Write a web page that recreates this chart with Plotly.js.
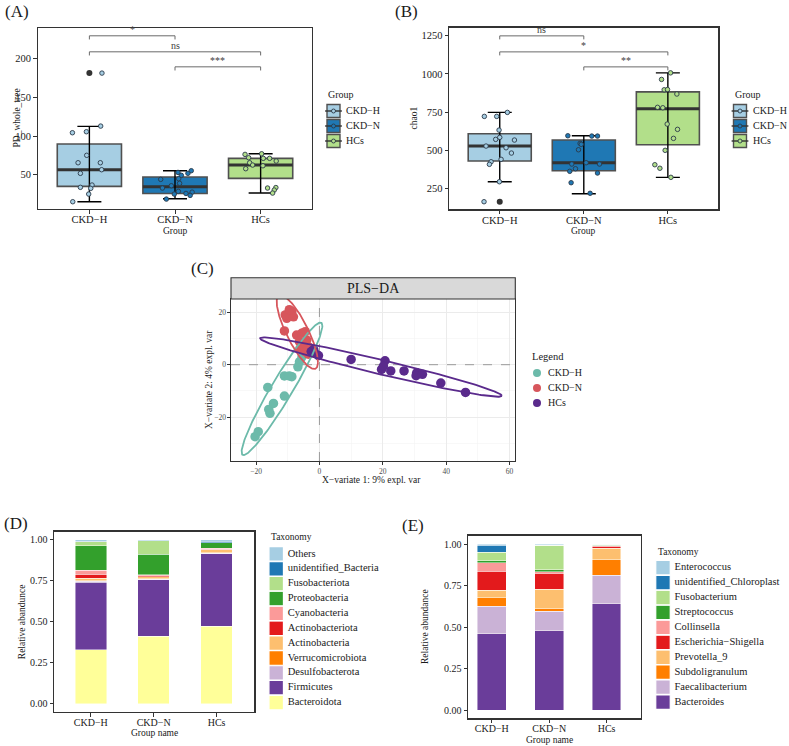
<!DOCTYPE html>
<html><head><meta charset="utf-8">
<script src="https://cdn.plot.ly/plotly-3.0.1.min.js"></script>
<style>html,body{margin:0;padding:0;background:#fff}#chart{width:789px;height:746px}</style>
</head><body><div id="chart"></div>
<script>
// ---------- DATA ----------
const groups = ['CKD\u2212H', 'CKD\u2212N', 'HCs'];
const groupColors = ['#A6CEE3', '#1F78B4', '#B2DF8A'];

// Panel A: PD_whole_tree
const pdQ1 = [35.0, 25.8, 45.3];
const pdMedian = [56.5, 34.5, 62.5];
const pdQ3 = [89.7, 47.0, 71.2];
const pdLower = [15.1, 19.0, 26.3];
const pdUpper = [112.5, 55.2, 77.1];
const pdOutlierGroup = [0];
const pdOutlierValue = [181.4];
const pdCkdH = [104.3, 105.6, 112.9, 75.1, 65.5, 65.5, 51.8, 56.5, 36.7, 33.7, 32.4, 25.0, 15.1, 181.4];
const pdCkdHJitter = [-0.198, -0.035, 0.132, -0.031, -0.132, 0.128, -0.105, 0.143, 0.031, -0.105, 0.016, -0.008, -0.194, 0.147];
const pdCkdN = [55.2, 51.8, 53.0, 49.2, 44.0, 44.8, 38.9, 32.8, 35.8, 28.5, 25.0, 25.8, 27.5, 23.3, 18.5];
const pdCkdNJitter = [0.19, 0.151, 0.035, 0.074, -0.167, 0.043, 0.054, -0.147, -0.043, 0.039, -0.008, 0.128, 0.2, 0.177, -0.101];
const pdHCs = [76.3, 77.1, 72.0, 71.2, 71.2, 67.7, 65.5, 62.5, 61.6, 57.8, 32.8, 33.4, 30.2, 26.3];
const pdHCsJitter = [-0.182, 0.012, -0.14, 0.031, 0.105, 0.182, -0.128, -0.093, 0.027, -0.174, 0.081, 0.178, 0.159, 0.14];
const pdBracketFrom = [0, 0, 1];
const pdBracketTo = [1, 2, 2];
const pdBracketY = [229.6, 208.9, 189.5];
const pdBracketLabel = ['*', 'ns', '***'];

// Panel B: chao1
const chaoQ1 = [430.8, 367.5, 537.2];
const chaoMedian = [528.7, 419.7, 772.2];
const chaoQ3 = [609.0, 567.9, 883.0];
const chaoLower = [295.7, 217.4, 324.4];
const chaoUpper = [748.7, 596.0, 1007.0];
const chaoOutlierGroup = [0];
const chaoOutlierValue = [165.0];
const chaoCkdH = [722.5, 722.5, 748.7, 633, 572.4, 585.5, 567.9, 528.7, 517.6, 483, 441.9, 426.2, 409.3, 295.7, 165];
const chaoCkdHJitter = [-0.183, -0.036, 0.091, -0.008, -0.048, 0, 0.175, -0.163, 0.075, 0.139, 0.016, -0.103, -0.123, -0.004, -0.187];
const chaoCkdN = [596, 594, 594, 546.3, 540, 504.5, 411.2, 419.7, 411.2, 380.5, 363.6, 352.5, 289.2, 220];
const chaoCkdNJitter = [-0.19, 0.095, 0.163, -0.044, -0.03, -0.063, -0.143, 0.028, 0.187, -0.099, -0.167, 0.163, -0.151, 0.075];
const chaoHCs = [1007, 964, 896.2, 898, 868.7, 781.7, 779, 672.3, 637.7, 579, 500.7, 406.7, 383.7, 324.4];
const chaoHCsJitter = [0.032, -0.075, -0.044, -0.004, 0.107, -0.123, -0.06, -0.008, 0.115, 0.067, -0.032, -0.155, -0.095, 0.036];
const chaoBracketFrom = [0, 0, 1];
const chaoBracketTo = [1, 2, 2];
const chaoBracketY = [1248.6, 1144, 1046];
const chaoBracketLabel = ['ns', '*', '**'];

// Panel C: PLS-DA scores
const plsColors = ['#6CBAAA', '#D7565C', '#5A2A8C'];
const plsCkdHX = [-20.3, -19.3, -16.3, -16.0, -15.6, -14.5, -11.05, -11.05, -9.5, -8.7, -6.8, -6.3, -5.5, -4.5];
const plsCkdHY = [-27.5, -25.6, -8.7, -17.1, -18.6, -14.8, -12.0, -4.3, -4.3, -4.6, -0.8, 1.1, 3.0, 5.0];
const plsCkdNX = [-9.8, -10.3, -10.8, -8.7, -8.2, -9.5, -11.05, -7.2, -5.6, -4.5, -6.3, -5.1, -4.0, -6.1, -3.5, -3.5, -4.5];
const plsCkdNY = [19.6, 17.7, 19.0, 20.3, 18.3, 21.0, 12.9, 11.3, 12.0, 12.6, 8.8, 7.5, 9.4, 6.2, 6.9, 4.0, 5.0];
const plsHCsX = [-2.6, -1.8, -1.4, -0.3, 10.0, 20.7, 19.6, 20.2, 22.5, 26.7, 30.7, 30.5, 32.5, 38.3, 46.1];
const plsHCsY = [5.0, 5.8, 4.3, 3.5, 2.0, 1.5, -1.8, -0.5, -2.4, -2.4, -3.1, -4.2, -3.7, -7.0, -10.6];

// Panel D: phylum relative abundance (bottom -> top)
const phylumNames = ['Bacteroidota', 'Firmicutes', 'Desulfobacterota', 'Verrucomicrobiota', 'Actinobacteria', 'Actinobacteriota', 'Cyanobacteria', 'Proteobacteria', 'Fusobacteriota', 'unidentified_Bacteria', 'Others'];
const phylumColors = ['#FFFF99', '#6A3D9A', '#CAB2D6', '#FF7F00', '#FDBF6F', '#E31A1C', '#FB9A99', '#33A02C', '#B2DF8A', '#1F78B4', '#A6CEE3'];
const phylumCkdH = [0.329, 0.412, 0.005, 0.003, 0.017, 0.024, 0.025, 0.149, 0.026, 0.002, 0.008];
const phylumCkdN = [0.412, 0.344, 0.003, 0.002, 0.013, 0.008, 0.004, 0.127, 0.082, 0.001, 0.004];
const phylumHCs = [0.471, 0.443, 0.003, 0.004, 0.020, 0.003, 0.004, 0.034, 0.002, 0.008, 0.008];

// Panel E: genus relative abundance (bottom -> top)
const genusNames = ['Bacteroides', 'Faecalibacterium', 'Subdoligranulum', 'Prevotella_9', 'Escherichia\u2212Shigella', 'Collinsella', 'Streptococcus', 'Fusobacterium', 'unidentified_Chloroplast', 'Enterococcus'];
const genusColors = ['#6A3D9A', '#CAB2D6', '#FF7F00', '#FDBF6F', '#E31A1C', '#FB9A99', '#33A02C', '#B2DF8A', '#1F78B4', '#A6CEE3'];
const genusCkdH = [0.460, 0.164, 0.051, 0.046, 0.116, 0.051, 0.010, 0.052, 0.044, 0.006];
const genusCkdN = [0.478, 0.116, 0.016, 0.117, 0.096, 0.010, 0.012, 0.147, 0.001, 0.007];
const genusHCs = [0.639, 0.172, 0.095, 0.068, 0.012, 0.004, 0.004, 0.005, 0.0005, 0.0005];

// ---------- BUILD ----------
const SERIF = 'Liberation Serif, Times New Roman, serif';
const W = 789, H = 746;
const px = v => v / W;
const py = v => 1 - v / H;
const traces = [];
const annotations = [];
const shapes = [];
const BOXW = 0.75;
const skip = { showlegend: false, hoverinfo: 'skip' };
const T = o => Object.assign({}, skip, o);
const plsXRange = [-27.9, 61.8];
const plsYRange = [-36.8, 25.1];

function boxPanel(xa, ya, q1, med, q3, lo, hi, outG, outV, ptsList, jitList, brFrom, brTo, brY, brLab, drop) {
  groups.forEach((g, i) => {
    traces.push(T({
      type: 'box', x: [i], q1: [q1[i]], median: [med[i]], q3: [q3[i]],
      lowerfence: [q1[i]], upperfence: [q3[i]], width: BOXW, whiskerwidth: 0,
      fillcolor: groupColors[i], line: { color: '#505050', width: 1.6 },
      name: g, xaxis: xa, yaxis: ya, boxpoints: false
    }));
  });
  const mx = [], my = [];
  groups.forEach((g, i) => { mx.push(i - BOXW / 2, i + BOXW / 2, null); my.push(med[i], med[i], null); });
  traces.push(T({ type: 'scatter', mode: 'lines', x: mx, y: my, line: { color: '#333333', width: 3 }, xaxis: xa, yaxis: ya }));
  traces.push(T({
    type: 'scatter', mode: 'markers', x: groups.map((g, i) => i), y: med,
    marker: { size: 1, color: 'rgba(0,0,0,0)' },
    error_y: { type: 'data', symmetric: false, array: hi.map((h, i) => h - med[i]), arrayminus: lo.map((l, i) => med[i] - l), color: '#000', thickness: 1.4, width: 12 },
    xaxis: xa, yaxis: ya
  }));
  traces.push(T({ type: 'scatter', mode: 'markers', x: outG, y: outV, marker: { size: 6, color: '#333333' }, xaxis: xa, yaxis: ya }));
  ptsList.forEach((pts, i) => {
    traces.push(T({
      type: 'scatter', mode: 'markers', x: pts.map((v, k) => i + jitList[i][k]), y: pts,
      marker: { size: 4.5, color: groupColors[i], line: { color: '#2b3a4a', width: 0.9 } },
      xaxis: xa, yaxis: ya
    }));
  });
  const bx = [], by = [];
  brY.forEach((y, k) => {
    bx.push(brFrom[k], brFrom[k], brTo[k], brTo[k], null);
    by.push(y - drop, y, y, y - drop, null);
    annotations.push({ xref: xa, yref: ya, x: (brFrom[k] + brTo[k]) / 2, y: y, text: brLab[k], showarrow: false, yanchor: 'bottom', yshift: -1, font: { family: SERIF, size: 10, color: '#404040' } });
  });
  traces.push(T({ type: 'scatter', mode: 'lines', x: bx, y: by, line: { color: '#6a6a6a', width: 1 }, xaxis: xa, yaxis: ya }));
}

boxPanel('x', 'y', pdQ1, pdMedian, pdQ3, pdLower, pdUpper, pdOutlierGroup, pdOutlierValue,
  [pdCkdH, pdCkdN, pdHCs], [pdCkdHJitter, pdCkdNJitter, pdHCsJitter], pdBracketFrom, pdBracketTo, pdBracketY, pdBracketLabel, 4.7);
boxPanel('x2', 'y2', chaoQ1, chaoMedian, chaoQ3, chaoLower, chaoUpper, chaoOutlierGroup, chaoOutlierValue,
  [chaoCkdH, chaoCkdN, chaoHCs], [chaoCkdHJitter, chaoCkdNJitter, chaoHCsJitter], chaoBracketFrom, chaoBracketTo, chaoBracketY, chaoBracketLabel, 23);

// Panel C: dashed zero reference lines, drawn under the points
traces.push(T({ type: 'scatter', mode: 'lines', x: [0, 0, null, plsXRange[0], plsXRange[1]], y: [plsYRange[0], plsYRange[1], null, 0, 0],
  line: { color: '#9a9a9a', width: 1, dash: 'dash' }, xaxis: 'x3', yaxis: 'y3' }));
const plsX = [plsCkdHX, plsCkdNX, plsHCsX];
const plsY = [plsCkdHY, plsCkdNY, plsHCsY];
groups.forEach((g, i) => {
  traces.push(T({ type: 'scatter', mode: 'markers', x: plsX[i], y: plsY[i], name: g,
    marker: { size: 9.5, color: plsColors[i] }, xaxis: 'x3', yaxis: 'y3' }));
});
const ELLIPSE_R = Math.sqrt(5.991464547); // 95% chi-square, 2 df
function ellipse(xs, ys) {
  const n = xs.length;
  const mx = xs.reduce((a, b) => a + b, 0) / n, my = ys.reduce((a, b) => a + b, 0) / n;
  let sxx = 0, syy = 0, sxy = 0;
  for (let k = 0; k < n; k++) { sxx += (xs[k] - mx) ** 2; syy += (ys[k] - my) ** 2; sxy += (xs[k] - mx) * (ys[k] - my); }
  sxx /= n - 1; syy /= n - 1; sxy /= n - 1;
  const a = Math.sqrt(sxx), b = sxy / a, c = Math.sqrt(Math.max(syy - b * b, 0));
  const ex = [], ey = [];
  for (let t = 0; t <= 200; t++) {
    const th = 2 * Math.PI * t / 200, u = Math.cos(th), v = Math.sin(th);
    ex.push(mx + ELLIPSE_R * a * u);
    ey.push(my + ELLIPSE_R * (b * u + c * v));
  }
  return { x: ex, y: ey };
}
groups.forEach((g, i) => {
  const e = ellipse(plsX[i], plsY[i]);
  traces.push(T({ type: 'scatter', mode: 'lines', x: e.x, y: e.y, line: { color: plsColors[i], width: 1.8 }, xaxis: 'x3', yaxis: 'y3' }));
});

// Panels D & E bars
function barPanel(names, colors, vals, xa, ya) {
  names.forEach((nm, k) => {
    traces.push(T({ type: 'bar', x: [0, 1, 2], y: vals.map(v => v[k]), width: 0.5, name: nm,
      marker: { color: colors[k], line: { color: 'rgba(255,255,255,0.75)', width: 0.6 } },
      xaxis: xa, yaxis: ya }));
  });
}
barPanel(phylumNames, phylumColors, [phylumCkdH, phylumCkdN, phylumHCs], 'x4', 'y4');
barPanel(genusNames, genusColors, [genusCkdH, genusCkdN, genusHCs], 'x5', 'y5');

// ---------- LEGENDS (drawn on hidden axes from the category arrays; 1 x-unit = 1 px) ----------
function legendText(names, ys, xText, xa, ya, size) {
  traces.push(T({ type: 'scatter', mode: 'text', x: names.map(() => xText), y: ys, text: names, textposition: 'middle right',
    textfont: { family: SERIF, size: size, color: '#1a1a1a' }, marker: { size: 1 }, xaxis: xa, yaxis: ya, cliponaxis: false }));
}
function keyLegend(names, colors, xa, ya, xText) {
  const ys = names.map((n, i) => i);
  traces.push(T({ type: 'scatter', mode: 'markers', x: names.map(() => 0), y: ys,
    marker: { symbol: 'square', size: 14.5, color: colors, line: { color: '#ffffff', width: 1.2 } },
    xaxis: xa, yaxis: ya, cliponaxis: false }));
  legendText(names, ys, xText, xa, ya, 10.5);
}
keyLegend(phylumNames, phylumColors, 'x6', 'y6', 11.5);
keyLegend(genusNames, genusColors, 'x7', 'y7', 11.5);

function boxLegend(xa, ya, xText) {
  const ys = groups.map((g, i) => -i);
  const zx = groups.map(() => 0);
  traces.push(T({ type: 'scatter', mode: 'markers', x: zx, y: ys, marker: { symbol: 'square', size: 13, color: groupColors, line: { color: '#505050', width: 1.4 } }, xaxis: xa, yaxis: ya, cliponaxis: false }));
  traces.push(T({ type: 'scatter', mode: 'markers', x: zx, y: ys, marker: { symbol: 'line-ew', size: 12, line: { color: '#333333', width: 1.4 } }, xaxis: xa, yaxis: ya, cliponaxis: false }));
  traces.push(T({ type: 'scatter', mode: 'markers', x: zx, y: ys, marker: { size: 4, color: groupColors, line: { color: '#2b3a4a', width: 0.9 } }, xaxis: xa, yaxis: ya, cliponaxis: false }));
  legendText(groups, ys, xText, xa, ya, 10);
}
boxLegend('x8', 'y8', 12.5);
boxLegend('x9', 'y9', 13);
(function () {
  const ys = groups.map((g, i) => -i);
  traces.push(T({ type: 'scatter', mode: 'markers', x: groups.map(() => 0), y: ys, marker: { size: 8, color: plsColors }, xaxis: 'x10', yaxis: 'y10', cliponaxis: false }));
  legendText(groups, ys, 11, 'x10', 'y10', 10);
})();

// ---------- LAYOUT ----------
const tickFont = { family: SERIF, size: 10.5, color: '#1a1a1a' };
function catAxis(domain, anchor, range, size) {
  return { domain: domain, anchor: anchor, range: range, tickmode: 'array', tickvals: [0, 1, 2], ticktext: groups,
    showline: true, mirror: true, linecolor: '#333333', linewidth: 1.3, ticks: 'outside', ticklen: 3.5, tickcolor: '#333333',
    ticklabelstandoff: -3,
    showgrid: false, zeroline: false, tickfont: Object.assign({}, tickFont, { size: size }), fixedrange: true };
}
function valAxis(domain, anchor, range, tickvals, fmt, size) {
  return { domain: domain, anchor: anchor, range: range, tickmode: 'array', tickvals: tickvals, tickformat: fmt,
    showline: true, mirror: true, linecolor: '#333333', linewidth: 1.3, ticks: 'outside', ticklen: 3.5, tickcolor: '#333333',
    showgrid: false, zeroline: false, tickfont: Object.assign({}, tickFont, { size: size }), fixedrange: true };
}
const hidden = (domain, anchor, range) => ({ domain: domain, anchor: anchor, range: range, visible: false, fixedrange: true });

function txt(x, y, text, size, opts) {
  annotations.push(Object.assign({ xref: 'paper', yref: 'paper', x: px(x), y: py(y), text: text, showarrow: false,
    font: { family: SERIF, size: size, color: '#1a1a1a' }, xanchor: 'center', yanchor: 'middle' }, opts || {}));
}
txt(3, 11, '(A)', 17, { xanchor: 'left' });
txt(393, 11, '(B)', 17, { xanchor: 'left' });
txt(189, 268, '(C)', 17, { xanchor: 'left' });
txt(2, 523, '(D)', 17, { xanchor: 'left' });
txt(400, 525, '(E)', 17, { xanchor: 'left' });
txt(17, 118.5, 'PD_whole_tree', 9.5, { textangle: -90 });
txt(175, 231, 'Group', 9.5);
txt(414, 118.5, 'chao1', 9.5, { textangle: -90 });
txt(583.5, 231, 'Group', 9.5);
txt(209, 380, 'X\u2212variate 2: 4% expl. var', 9.5, { textangle: -90 });
txt(371, 480, 'X\u2212variate 1: 9% expl. var', 9.5);
txt(21.5, 621.7, 'Relative abandunce', 9.5, { textangle: -90 });
txt(154, 733, 'Group name', 9.5);
txt(425, 627, 'Relative abundance', 9.5, { textangle: -90 });
txt(549, 739.5, 'Group name', 9.5);
txt(326, 95, 'Group', 10, { xanchor: 'left' });
txt(733, 95, 'Group', 10, { xanchor: 'left' });
txt(530, 356, 'Legend', 10.5, { xanchor: 'left' });
txt(269, 537, 'Taxonomy', 9.5, { xanchor: 'left' });
txt(656, 552, 'Taxonomy', 9.5, { xanchor: 'left' });
shapes.push({ type: 'rect', xref: 'paper', yref: 'paper', x0: px(231), x1: px(515.3), y0: py(299), y1: py(277.7), fillcolor: '#d9d9d9', line: { color: '#333333', width: 1.1 } });
txt(373, 288.5, 'PLS\u2212DA', 14);

const layout = {
  width: W, height: H, margin: { l: 0, r: 0, t: 0, b: 0 }, paper_bgcolor: '#ffffff', plot_bgcolor: 'rgba(0,0,0,0)',
  showlegend: false, hovermode: false, barmode: 'stack', boxmode: 'overlay',
  font: { family: SERIF, color: '#1a1a1a' },
  xaxis: catAxis([px(38), px(312)], 'y', [-0.6, 2.6], 10.5),
  yaxis: valAxis([py(209), py(28)], 'x', [5.7, 239.7], [50, 100, 150, 200], '', 10.5),
  xaxis2: catAxis([px(449.3), px(718.3)], 'y2', [-0.6, 2.6], 10.5),
  yaxis2: valAxis([py(209.3), py(27.7)], 'x2', [115.5, 1302], [250, 500, 750, 1000, 1250], '', 10.5),
  xaxis3: { domain: [px(231), px(515.3)], anchor: 'y3', range: plsXRange, tickmode: 'array', tickvals: [-20, 0, 20, 40, 60],
    showline: true, mirror: true, linecolor: '#333333', linewidth: 1.1, ticks: 'outside', ticklen: 2.5, tickcolor: '#333333',
    showgrid: true, gridcolor: '#ebebeb', gridwidth: 1, zeroline: false, tickfont: { family: SERIF, size: 7.5, color: '#4d4d4d' },
    minor: { tickvals: [-10, 10, 30, 50], showgrid: true, gridcolor: '#f3f3f3', gridwidth: 0.6, ticks: '' }, fixedrange: true },
  yaxis3: { domain: [py(461), py(299)], anchor: 'x3', range: plsYRange, tickmode: 'array', tickvals: [-20, 0, 20],
    showline: true, mirror: true, linecolor: '#333333', linewidth: 1.1, ticks: 'outside', ticklen: 2.5, tickcolor: '#333333',
    showgrid: true, gridcolor: '#ebebeb', gridwidth: 1, zeroline: false, tickfont: { family: SERIF, size: 7.5, color: '#4d4d4d' },
    minor: { tickvals: [-30, -10, 10], showgrid: true, gridcolor: '#f3f3f3', gridwidth: 0.6, ticks: '' }, fixedrange: true },
  xaxis4: catAxis([px(54.3), px(254.3)], 'y4', [-0.58, 2.6], 10),
  yaxis4: valAxis([py(711.7), py(531.7)], 'x4', [-0.05, 1.05], [0, 0.25, 0.5, 0.75, 1], '.2f', 10),
  xaxis5: catAxis([px(468.3), px(641)], 'y5', [-0.41, 2.6], 10),
  yaxis5: valAxis([py(718.3), py(535.7)], 'x5', [-0.05, 1.05], [0, 0.25, 0.5, 0.75, 1], '.2f', 10),
  xaxis6: hidden([px(269), px(400)], 'y6', [-7.2, 123.8]),
  yaxis6: hidden([py(710), py(546.5)], 'x6', [-0.5, 10.5]),
  xaxis7: hidden([px(656), px(789)], 'y7', [-7, 126]),
  yaxis7: hidden([py(709.5), py(560.2)], 'x7', [-0.5, 9.5]),
  xaxis8: hidden([px(320), px(389)], 'y8', [-13.5, 55.5]),
  yaxis8: hidden([py(148.5), py(103.5)], 'x8', [-2.5, 0.5]),
  xaxis9: hidden([px(725), px(789)], 'y9', [-15, 49]),
  yaxis9: hidden([py(148.5), py(103.5)], 'x9', [-2.5, 0.5]),
  xaxis10: hidden([px(527), px(600)], 'y10', [-10, 63]),
  yaxis10: hidden([py(410.5), py(365.5)], 'x10', [-2.5, 0.5]),
  annotations: annotations,
  shapes: shapes
};

Plotly.newPlot('chart', traces, layout, { displayModeBar: false, staticPlot: true });
</script></body></html>
